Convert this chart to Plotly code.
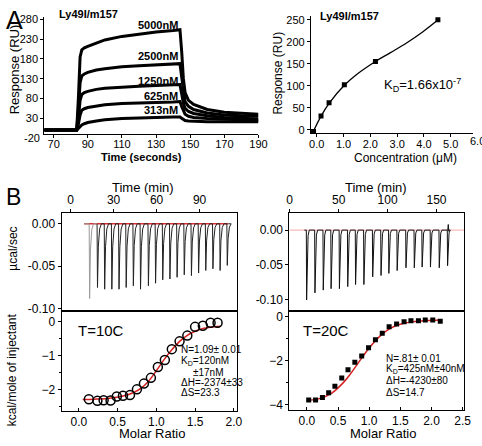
import plotly.graph_objects as go

W, H = 482, 446

# ---------------- Panel A (left): SPR sensorgrams ----------------
SPR_TIME = [64.5, 83.5, 84.5, 85.5, 86.5, 88, 90, 95, 100, 110, 120, 130, 140, 144, 145, 146, 147, 149, 152, 160, 170, 180, 190]
SPR_5000 = [0, 0, 80, 185, 203, 208, 212, 220, 228, 237, 243, 248, 252, 254, 200, 130, 95, 75, 65, 52, 45, 42, 40]
SPR_2500 = [0, 0, 50, 120, 137, 142, 146, 152, 155, 160, 163, 165, 167, 168, 135, 95, 72, 60, 52, 43, 38, 36, 35]
SPR_1250 = [0, 0, 30, 75, 90, 95, 98, 103, 106, 109, 111, 113, 114, 115, 92, 68, 55, 47, 42, 36, 32, 30, 28]
SPR_625 = [0, 0, 15, 38, 50, 54, 57, 61, 64, 67, 69, 70, 71, 72, 60, 47, 40, 35, 32, 29, 27, 25, 24]
SPR_313 = [0, 0, 4, 9, 13, 16, 19, 23, 26, 29, 31, 32, 33, 33, 30, 26, 24, 23, 22, 21, 21, 21, 21]
SPR_LABELS = ["5000nM", "2500nM", "1250nM", "625nM", "313nM"]
SPR_LABEL_Y = [267, 187, 125, 86, 51]

# ---------------- Panel A (right): equilibrium binding ----------------
CONC = [-0.12, 0.16, 0.46, 1.03, 2.19, 4.52]
RESP = [-4, 31, 61, 102, 155, 250]
FIT_CONC = [-0.12, 0.16, 0.46, 1.03, 1.5, 2.19, 2.75, 3.35, 3.95, 4.52]
FIT_RESP = [-3, 31, 60, 101, 126, 155, 175, 197, 222, 249]

# ---------------- Panel B: ITC raw data ----------------
ITC10_T = [13, 18.5, 23.5, 28.5, 33.5, 38.5, 43.5, 48.5, 54, 59, 64, 69, 74, 79, 84, 89, 94, 99, 104, 109]
ITC10_D = [-0.088, -0.075, -0.077, -0.077, -0.077, -0.075, -0.073, -0.077, -0.073, -0.070,
           -0.066, -0.065, -0.063, -0.060, -0.061, -0.058, -0.055, -0.053, -0.055, -0.049]
ITC20_T = [17, 25.5, 34, 42, 50.5, 59, 67, 75.5, 84.5, 93, 101, 109.5, 118.5, 127, 135, 143.5, 152.5, 161]
ITC20_D = [-0.100, -0.090, -0.086, -0.084, -0.084, -0.081, -0.078, -0.078, -0.067, -0.065,
           -0.062, -0.058, -0.054, -0.054, -0.053, -0.053, -0.054, -0.051]

# ---------------- Panel B: integrated heats ----------------
MR10 = [0.13, 0.24, 0.32, 0.41, 0.49, 0.57, 0.66, 0.75, 0.84, 0.93, 1.02, 1.11, 1.20, 1.30, 1.40, 1.50, 1.60, 1.70, 1.79]
HEAT10 = [-2.29, -2.34, -2.32, -2.33, -2.21, -2.19, -2.17, -2.00, -1.83, -1.66, -1.34, -1.13, -0.81, -0.58, -0.41, -0.15, -0.12, -0.03, -0.03]
FIT_MR10 = [0.05, 0.2, 0.4, 0.6, 0.7, 0.8, 0.9, 1.0, 1.1, 1.2, 1.3, 1.4, 1.5, 1.6, 1.7, 1.83]
FIT_HEAT10 = [-2.30, -2.29, -2.26, -2.18, -2.10, -1.97, -1.76, -1.45, -1.12, -0.83, -0.58, -0.40, -0.28, -0.20, -0.16, -0.13]

MR20 = [0.03, 0.14, 0.25, 0.35, 0.45, 0.56, 0.66, 0.77, 0.88, 0.99, 1.10, 1.21, 1.32, 1.44, 1.56, 1.67, 1.79, 1.90, 2.02, 2.14]
HEAT20 = [-3.78, -3.78, -3.67, -3.45, -3.16, -2.79, -2.41, -2.07, -1.79, -1.41, -1.05, -0.76, -0.46, -0.34, -0.24, -0.19, -0.19, -0.16, -0.16, -0.21]
FIT_MR20 = [0.0, 0.2, 0.4, 0.6, 0.7, 0.8, 0.9, 1.0, 1.1, 1.2, 1.3, 1.4, 1.5, 1.7, 1.9, 2.15]
FIT_HEAT20 = [-3.80, -3.72, -3.47, -2.95, -2.60, -2.20, -1.80, -1.43, -1.10, -0.82, -0.60, -0.45, -0.35, -0.24, -0.19, -0.16]

# spike drawing template (time offsets, fraction of depth)
SPIKE_DT = [0, 0.3, 0.9, 1.8, 3.0]
SPIKE_FRAC = [0, 1.0, 0.35, 0.08, 0]


def spikes(times, depths, start, end):
    xs, ys = [start], [0.0]
    for t, d in zip(times, depths):
        for o, f in zip(SPIKE_DT, SPIKE_FRAC):
            xs.append(t + o)
            ys.append(d * f)
    xs.append(end)
    ys.append(0.0)
    return xs, ys


def px(x):
    return x / W


def py(y):
    return 1 - y / H


FONT = "Arial, Liberation Sans, sans-serif"
fig = go.Figure()

# SPR curves
for ys in [SPR_5000, SPR_2500, SPR_1250, SPR_625, SPR_313]:
    fig.add_trace(go.Scatter(x=SPR_TIME, y=ys, mode="lines", line=dict(color="black", width=3),
                             xaxis="x", yaxis="y", showlegend=False))

# equilibrium fit
fig.add_trace(go.Scatter(x=FIT_CONC, y=FIT_RESP, mode="lines", line=dict(color="black", width=1.3, shape="spline"),
                         xaxis="x2", yaxis="y2", showlegend=False))
fig.add_trace(go.Scatter(x=CONC, y=RESP, mode="markers", marker=dict(symbol="square", size=5, color="black"),
                         xaxis="x2", yaxis="y2", showlegend=False))

# ITC raw 10C
x10, y10 = spikes(ITC10_T, ITC10_D, 9.5, 110)
fig.add_trace(go.Scatter(x=[9.5, 110], y=[0, 0], mode="lines", line=dict(color="#d83030", width=1.5),
                         xaxis="x3", yaxis="y3", showlegend=False))
fig.add_trace(go.Scatter(x=x10[6:], y=y10[6:], mode="lines", line=dict(color="#222222", width=1),
                         xaxis="x3", yaxis="y3", showlegend=False))
fig.add_trace(go.Scatter(x=x10[:7], y=y10[:7], mode="lines", line=dict(color="#9a9a9a", width=1),
                         xaxis="x3", yaxis="y3", showlegend=False))

# ITC raw 20C
x20, y20 = spikes(ITC20_T, ITC20_D, 15, 161.5)
x20 += [162, 162.5]
y20 += [0.008, -0.002]
fig.add_trace(go.Scatter(x=[-0.3, 178], y=[0, 0], mode="lines", line=dict(color="#f4a8a8", width=1),
                         xaxis="x5", yaxis="y5", showlegend=False))
fig.add_trace(go.Scatter(x=x20, y=y20, mode="lines", line=dict(color="#111111", width=1),
                         xaxis="x5", yaxis="y5", showlegend=False))

# integrated heats
fig.add_trace(go.Scatter(x=FIT_MR10, y=FIT_HEAT10, mode="lines", line=dict(color="#d62020", width=1.5, shape="spline"),
                         xaxis="x4", yaxis="y4", showlegend=False))
fig.add_trace(go.Scatter(x=MR10, y=HEAT10, mode="markers",
                         marker=dict(symbol="circle-open", size=9, color="black", line=dict(width=1.5)),
                         xaxis="x4", yaxis="y4", showlegend=False))
fig.add_trace(go.Scatter(x=FIT_MR20, y=FIT_HEAT20, mode="lines", line=dict(color="#d62020", width=1.5, shape="spline"),
                         xaxis="x6", yaxis="y6", showlegend=False))
fig.add_trace(go.Scatter(x=MR20, y=HEAT20, mode="markers", marker=dict(symbol="square", size=5, color="black"),
                         xaxis="x6", yaxis="y6", showlegend=False))

base_ax = dict(showline=True, linecolor="black", linewidth=1, ticks="outside", ticklen=3, tickcolor="black",
               showgrid=False, zeroline=False, tickfont=dict(family=FONT, size=12, color="black"))


def ax(**kw):
    d = dict(base_ax)
    d.update(kw)
    return d


f11 = dict(family=FONT, size=11, color="black")
fig.update_layout(
    width=W, height=H, autosize=False, margin=dict(l=0, r=0, t=0, b=0),
    paper_bgcolor="white", plot_bgcolor="white", font=dict(family=FONT, color="black"),
    xaxis=ax(domain=[px(42.3), px(262)], range=[64.5, 190], anchor="y", tickvals=[70, 90, 110, 130, 150, 170, 190],
             tickfont=f11, ticklabelstandoff=-3),
    yaxis=ax(domain=[py(132.7), py(13.7)], range=[-10, 285], anchor="x", tickvals=[30, 80, 130, 180, 230, 280], tickfont=f11),
    xaxis2=ax(domain=[px(315.7), 1], range=[-0.22, 5.83], anchor="y2", tickvals=[0, 1, 2, 3, 4, 5],
              ticktext=["0.0", "1.0", "2.0", "3.0", "4.0", "5.0"], tickfont=f11, ticklabelstandoff=-2),
    yaxis2=ax(domain=[py(131.7), py(12)], range=[-7.6, 258.9], anchor="x2", tickvals=[0, 50, 100, 150, 200, 250], tickfont=f11),
    xaxis3=ax(domain=[px(60), px(240)], range=[-6.3, 116.1], anchor="y3", side="top", mirror=True, tickvals=[0, 30, 60, 90]),
    yaxis3=ax(domain=[py(313), py(213.3)], range=[-0.1023, 0.0127], anchor="x3", mirror=True,
              tickvals=[0, -0.05, -0.10], ticktext=["0.00", "-0.05", "-0.10"]),
    xaxis4=ax(domain=[px(60), px(240)], range=[-0.223, 2.041], anchor="y4", mirror=True, ticks="inside",
              tickvals=[0, 0.5, 1, 1.5, 2], ticktext=["0.0", "0.5", "1.0", "1.5", "2.0"]),
    yaxis4=ax(domain=[py(415), py(313)], range=[-2.629, 0.328], anchor="x4", mirror=True, tickvals=[0, -1, -2],
              minor=dict(tickvals=[-0.5, -1.5, -2.5], ticklen=2, ticks="outside", tickcolor="black")),
    xaxis5=ax(domain=[px(293.7), px(472.7)], range=[-0.3, 178], anchor="y5", side="top", mirror=True, tickvals=[0, 50, 100, 150]),
    yaxis5=ax(domain=[py(313.3), py(213.3)], range=[-0.1159, 0.0245], anchor="x5", mirror=True,
              tickvals=[0, -0.05, -0.10], ticktext=["0.00", "-0.05", "-0.10"]),
    xaxis6=ax(domain=[px(293.7), px(472.7)], range=[-0.28, 2.52], anchor="y6", mirror=True, ticks="inside",
              tickvals=[0, 0.5, 1, 1.5, 2, 2.5], ticktext=["0.0", "0.5", "1.0", "1.5", "2.0", "2.5"]),
    yaxis6=ax(domain=[py(414), py(313.3)], range=[-4.22, 0.253], anchor="x6", mirror=True, tickvals=[0, -2, -4],
              minor=dict(tickvals=[-1, -3], ticklen=2, ticks="outside", tickcolor="black")),
)

ann = []


def A(text, x, y, size=12, xanchor="center", yanchor="middle", angle=0, bold=False, xref="paper", yref="paper"):
    if bold:
        text = "<b>" + text + "</b>"
    ann.append(dict(text=text, x=x, y=y, xref=xref, yref=yref, showarrow=False, xanchor=xanchor, yanchor=yanchor,
                    textangle=angle, font=dict(family=FONT, size=size, color="black")))


A("A", px(1), py(16), size=25, xanchor="left")
A("B", px(1), py(197), size=23, xanchor="left")
A("Ly49I/m157", px(55), py(10), size=11, xanchor="left", bold=True)
A("Ly49I/m157", px(323), py(12.7), size=11, xanchor="left", bold=True)
for lab, yv in zip(SPR_LABELS, SPR_LABEL_Y):
    A(lab, 144, yv, size=11, xanchor="right", bold=True, xref="x", yref="y")
A("Time (seconds)", px(142), py(156.5), size=11, bold=True)
A("Response (RU)", px(12), py(67), size=13, angle=-90)
A("Response (RU)", px(282), py(70), size=12, angle=-90)
A("-20", px(40), py(136.7), size=11, xanchor="right")
A("Concentration (μM)", px(413), py(157), size=12)
A("K<sub>D</sub>=1.66x10<sup>-7</sup>", px(389), py(83), size=13, xanchor="left")
A("6.0", px(486.5), py(140), size=11)
A("Time (min)", px(144), py(187), size=13)
A("Time (min)", px(383), py(187), size=13)
A("µcal/sec", px(10), py(250), size=12, angle=-90)
A("kcal/mole of injectant", px(10), py(373), size=12, angle=-90)
A("T=10C", px(75), py(333), size=15, xanchor="left")
A("T=20C", px(306), py(333), size=15, xanchor="left")
A("N=1.09± 0.01", px(180), py(352.7), size=10, xanchor="left")
A("K<sub>D</sub>=120nM", px(180), py(364.3), size=10, xanchor="left")
A("±17nM", px(193), py(376), size=10, xanchor="left")
A("ΔH=-2374±33", px(180), py(386.5), size=10, xanchor="left")
A("ΔS=23.3", px(180), py(397), size=10, xanchor="left")
A("N=.81± 0.01", px(391), py(361.7), size=10, xanchor="left")
A("K<sub>D</sub>=425nM±40nM", px(391), py(372.7), size=10, xanchor="left")
A("ΔH=-4230±80", px(391), py(384.5), size=10, xanchor="left")
A("ΔS=14.7", px(391), py(396), size=10, xanchor="left")
A("Molar Ratio", px(153), py(438), size=13)
A("Molar Ratio", px(390), py(438), size=13)

fig.update_layout(annotations=ann)
fig.write_html("out.html", config={"displayModeBar": False},
               post_script="document.body.style.margin='0px';document.body.style.overflow='hidden';")
